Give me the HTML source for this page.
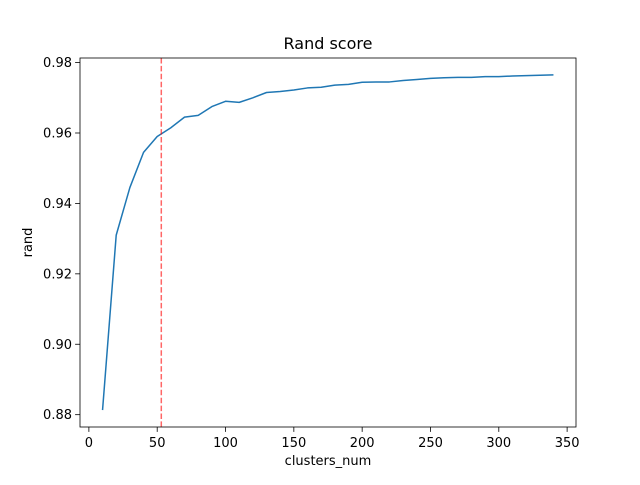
<!DOCTYPE html>
<html><head><meta charset="utf-8"><style>
body{margin:0;background:#fff}
text{font-family:"DejaVu Sans","Liberation Sans",sans-serif;fill:#000}
</style></head><body>
<svg id="chart" width="640" height="480" xmlns="http://www.w3.org/2000/svg">
<rect width="640" height="480" fill="#fff"/>
<g id="plot"></g>
</svg>
<script>
const clusters = [10,20,30,40,50,60,70,80,90,100,110,120,130,140,150,160,170,180,190,200,210,220,230,240,250,260,270,280,290,300,310,320,330,340];
const randValues = [0.8813,0.931,0.9445,0.9545,0.959,0.9615,0.9645,0.965,0.9675,0.969,0.9687,0.970,0.9715,0.9718,0.9722,0.9728,0.973,0.9736,0.9738,0.9744,0.9745,0.9745,0.9749,0.9752,0.9755,0.9757,0.9758,0.9758,0.976,0.976,0.9762,0.9763,0.9764,0.9765];
const xTicks = [0,50,100,150,200,250,300,350];
const yTicks = [0.88,0.90,0.92,0.94,0.96,0.98];
const markerX = 53;

const L=80,R=576,T=58,B=427;
const xMin=-6.5,xMax=356.5,yMin=0.8765,yMax=0.9813;
const sx=v=>L+(v-xMin)/(xMax-xMin)*(R-L);
const sy=v=>B-(v-yMin)/(yMax-yMin)*(B-T);
const NS="http://www.w3.org/2000/svg";
const g=document.getElementById('plot');
function mk(tag,attrs,text){const e=document.createElementNS(NS,tag);for(const k in attrs)e.setAttribute(k,attrs[k]);if(text!==undefined)e.textContent=text;g.appendChild(e);return e;}

let pts=clusters.map((c,i)=>sx(c).toFixed(2)+','+sy(randValues[i]).toFixed(2)).join(' ');
const line=mk('polyline',{points:pts,fill:'none',stroke:'#1f77b4','stroke-width':1.5,'stroke-linejoin':'round'});



const vl=mk('line',{x1:sx(markerX),x2:sx(markerX),y1:T,y2:B,stroke:'#ff0000','stroke-opacity':0.6,'stroke-width':1.5,'stroke-dasharray':'5.5,2.4'});



const frame=mk('rect',{x:L,y:T,width:R-L,height:B-T,fill:'none',stroke:'#000','stroke-width':0.8});



xTicks.forEach(t=>{
  const x=sx(t);
  const tk=mk('line',{x1:x,x2:x,y1:B,y2:B+4.9,stroke:'#000','stroke-width':0.8});
  
  
  const lb=mk('text',{x:x,y:B+20,'text-anchor':'middle','font-size':13},String(t));
  
  
});
yTicks.forEach(t=>{
  const y=sy(t);
  const tk=mk('line',{x1:L-4.9,x2:L,y1:y,y2:y,stroke:'#000','stroke-width':0.8});
  
  
  const lb=mk('text',{x:L-8,y:y+4.5,'text-anchor':'end','font-size':13},t.toFixed(2));
  
  
});
const title=mk('text',{x:(L+R)/2,y:T-9,'text-anchor':'middle','font-size':16},'Rand score');


const xl=mk('text',{x:(L+R)/2,y:B+38,'text-anchor':'middle','font-size':13},'clusters_num');


const yl=mk('text',{x:32,y:(T+B)/2,'text-anchor':'middle','font-size':13,transform:'rotate(-90 32 '+((T+B)/2)+')'},'rand');


</script>
</body></html>
